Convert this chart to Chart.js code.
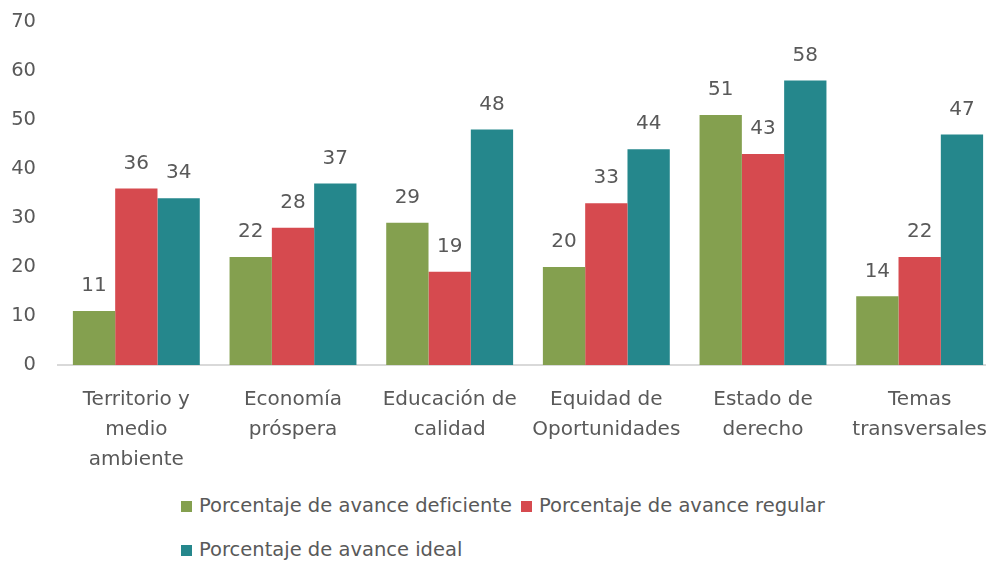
<!DOCTYPE html>
<html lang="es">
<head>
    <meta charset="UTF-8">
    <title>Porcentaje de avance</title>
    <script type="text/javascript" src="https://cdn.jsdelivr.net/npm/chart.js@4/dist/chart.umd.min.js"></script>
    <style>
        html, body { margin: 0; padding: 0; background: #fff; overflow: hidden; width: 986px; height: 566px; }
        #wrap { position: absolute; left: 0; top: -4px; width: 1000px; height: 474px; }
        .legend { position: absolute; left: 181px; font-family: "DejaVu Sans", sans-serif; font-size: 19.5px; color: #595959; white-space: nowrap; }
        .legend span.box { display: inline-block; width: 11px; height: 11px; margin-right: 7px; vertical-align: 0px; }
        .legend .item { margin-right: 9px; }
    </style>
</head>
<body>
<div id="wrap"><canvas id="chart" width="1000" height="474"></canvas></div>
<div class="legend" style="top:494px"><span class="item"><span class="box" style="background:#84A04F"></span>Porcentaje de avance deficiente</span><span class="item"><span class="box" style="background:#D64A4F"></span>Porcentaje de avance regular</span></div>
<div class="legend" style="top:538px"><span class="item"><span class="box" style="background:#25878C"></span>Porcentaje de avance ideal</span></div>

<script type="text/javascript">
    // datos
    var categorias = [
        ['Territorio y', 'medio', 'ambiente'],
        ['Economía', 'próspera'],
        ['Educación de', 'calidad'],
        ['Equidad de', 'Oportunidades'],
        ['Estado de', 'derecho'],
        ['Temas', 'transversales']
    ];
    var deficiente = [11, 22, 29, 20, 51, 14];
    var regular = [36, 28, 19, 33, 43, 22];
    var ideal = [34, 37, 48, 44, 58, 47];
    var yTicks = [0, 10, 20, 30, 40, 50, 60, 70];

    var gris = '#595959';
    var fuente = '"DejaVu Sans", sans-serif';

    // etiquetas encima de las barras
    var etiquetas = {
        id: 'etiquetas',
        afterDatasetsDraw: function (chart) {
            var ctx = chart.ctx;
            ctx.save();
            ctx.font = '20px ' + fuente;
            ctx.fillStyle = gris;
            ctx.textAlign = 'center';
            ctx.textBaseline = 'middle';
            chart.data.datasets.forEach(function (ds, i) {
                chart.getDatasetMeta(i).data.forEach(function (bar, j) {
                    ctx.fillText(ds.data[j], bar.x, bar.y - 25);
                });
            });
            ctx.restore();
        }
    };

    new Chart(document.getElementById('chart').getContext('2d'), {
        type: 'bar',
        data: {
            labels: categorias,
            datasets: [
                {label: 'Porcentaje de avance deficiente', data: deficiente, backgroundColor: '#84A04F'},
                {label: 'Porcentaje de avance regular', data: regular, backgroundColor: '#D64A4F'},
                {label: 'Porcentaje de avance ideal', data: ideal, backgroundColor: '#25878C'}
            ]
        },
        options: {
            responsive: false,
            animation: false,
            layout: {padding: {top: 12, right: 2, left: 0, bottom: 0}},
            plugins: {legend: {display: false}, tooltip: {enabled: false}},
            datasets: {bar: {categoryPercentage: 0.81, barPercentage: 1}},
            scales: {
                x: {
                    grid: {display: false},
                    border: {color: '#D9D9D9', width: 2},
                    ticks: {color: gris, font: {family: fuente, size: 20, lineHeight: 1.5}, padding: 12, maxRotation: 0, autoSkip: false},
                    afterFit: function (s) { s.height = 105; }
                },
                y: {
                    min: 0,
                    max: 70,
                    grid: {display: false},
                    border: {display: false},
                    afterBuildTicks: function (s) { s.ticks = yTicks.map(function (v) { return {value: v}; }); },
                    ticks: {color: gris, font: {family: fuente, size: 19.5}, padding: 14},
                    afterFit: function (s) { s.width = 58; }
                }
            }
        },
        plugins: [etiquetas]
    });
</script>
</body>
</html>
